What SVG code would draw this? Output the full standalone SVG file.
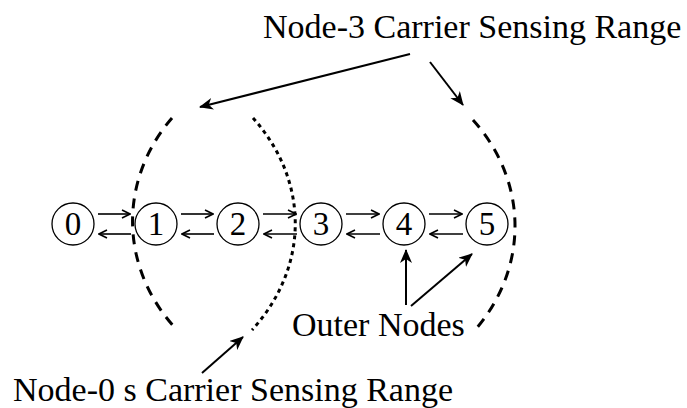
<svg xmlns="http://www.w3.org/2000/svg" width="687" height="408" viewBox="0 0 687 408">
<style>
.lbl{font-size:34px}
.num{font-size:33px;text-anchor:middle}
.node circle{fill:#fff;stroke:#000;stroke-width:1.3}
.link{stroke:#000;stroke-width:1.6;fill:none;marker-end:url(#open)}
.big{stroke:#000;stroke-width:2;fill:none;marker-end:url(#solid)}
.range{fill:none;stroke:#000;stroke-width:3}
.dash{stroke-dasharray:10 8}
.dot{stroke-dasharray:4 4}
</style>
<defs>
<marker id="open" viewBox="0 0 10 10" refX="9" refY="5" markerWidth="10" markerHeight="10" markerUnits="userSpaceOnUse" orient="auto">
<path d="M1,1 L9,5 L1,9" fill="none" stroke="#000" stroke-width="1.6"/>
</marker>
<marker id="solid" viewBox="0 0 14 12" refX="13" refY="6" markerWidth="14" markerHeight="12" markerUnits="userSpaceOnUse" orient="auto">
<path d="M0,0 L14,6 L0,12 L4,6 z" fill="#000"/>
</marker>
</defs>
<g id="ranges">
<path class="range dash" d="M172,118 A192 170 0 0 0 177,330"/>
<path class="range dash" d="M473,120 A192 170 0 0 1 475,330"/>
<path class="range dot" d="M253,118 A223 180 0 0 1 252,330"/>
</g>
<g font-family="Liberation Serif, Times New Roman, serif" fill="#000">
<g id="n0" class="node"><circle cx="73" cy="224" r="21"/><text class="num" x="73" y="235">0</text></g>
<g id="n1" class="node"><circle cx="156" cy="224" r="21"/><text class="num" x="156" y="235">1</text></g>
<g id="n2" class="node"><circle cx="238" cy="224" r="21"/><text class="num" x="238" y="235">2</text></g>
<g id="n3" class="node"><circle cx="321" cy="224" r="21"/><text class="num" x="321" y="235">3</text></g>
<g id="n4" class="node"><circle cx="404" cy="224" r="21"/><text class="num" x="404" y="235">4</text></g>
<g id="n5" class="node"><circle cx="487" cy="224" r="21"/><text class="num" x="487" y="235">5</text></g>
</g>
<g id="connectors">
<path class="link" d="M98,214 H130"/><path class="link" d="M131,234 H99"/>
<path class="link" d="M181,214 H213"/><path class="link" d="M214,234 H182"/>
<path class="link" d="M263,214 H296"/><path class="link" d="M297,234 H264"/>
<path class="link" d="M346,214 H379"/><path class="link" d="M380,234 H347"/>
<path class="link" d="M429,214 H462"/><path class="link" d="M463,234 H430"/>
<path class="big" d="M410,54 L200,107"/>
<path class="big" d="M430,62 L463,105"/>
<path class="big" d="M202,373 L243,337"/>
<path class="big" d="M406,305 L406,250"/>
<path class="big" d="M411,306 L472,254"/>
</g>
<g id="labels" font-family="Liberation Serif, Times New Roman, serif" fill="#000">
<text class="lbl" x="263" y="38">Node-3 Carrier Sensing Range</text>
<text class="lbl" x="292" y="336">Outer Nodes</text>
<text class="lbl" x="13" y="401">Node-0 s Carrier Sensing Range</text>
</g>
</svg>
